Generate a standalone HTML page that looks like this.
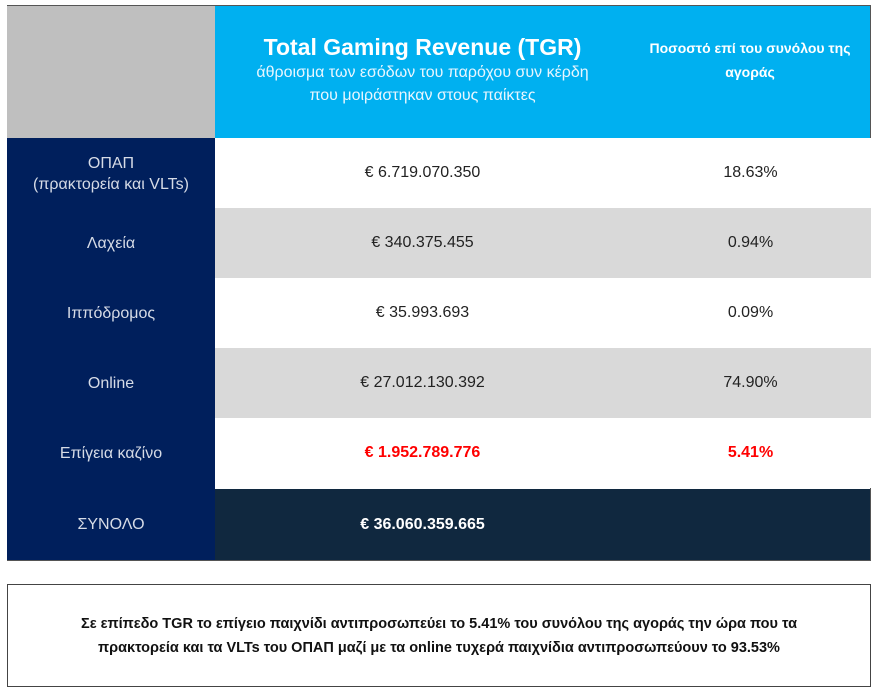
<!DOCTYPE html>
<html><head><meta charset="utf-8"><style>
body{margin:0;width:880px;height:696px;background:#fff;font-family:"Liberation Sans","DejaVu Sans",sans-serif;position:relative;overflow:hidden}
.c{position:absolute;display:flex;align-items:center;justify-content:center;text-align:center;box-sizing:border-box}
.lab{left:7px;width:208px;background:#001f5c;color:#d6dbe6;font-size:16px;line-height:21px}
.v{left:215px;width:415px;font-size:16px;color:#222}
.p{left:630px;width:241px;font-size:16px;color:#222}
</style></head><body>
<div style="position:absolute;left:7px;top:5px;width:864px;height:556px;border:1px solid #555;box-sizing:border-box"></div>
<div class="c" style="left:7px;top:6px;width:208px;height:132px;background:#bfbfbf"></div>
<div class="c" style="left:215px;top:6px;width:415px;height:132px;background:#00b0f0;flex-direction:column;color:#fff;justify-content:flex-start;padding-top:28px">
<div style="font-weight:bold;font-size:23px;line-height:26px">Total Gaming Revenue (TGR)</div>
<div style="font-size:16px;color:#e8f6ff;line-height:23px;margin-top:1px">άθροισμα των εσόδων του παρόχου συν κέρδη<br>που μοιράστηκαν στους παίκτες</div></div>
<div class="c" style="left:630px;top:6px;width:240px;height:132px;background:#00b0f0;color:#fff;font-weight:bold;font-size:14px;line-height:24px;align-items:flex-start;padding-top:30px">Ποσοστό επί του συνόλου της<br>αγοράς</div>
<div id="rows"></div>
<div class="c lab" style="top:489px;height:71px">ΣΥΝΟΛΟ</div>
<div class="c" style="left:215px;top:489px;width:655px;height:71px;background:#10283f;justify-content:flex-start"><span style="width:415px;text-align:center;color:#fff;font-weight:bold;font-size:16px">€ 36.060.359.665</span></div>
<div class="c" style="left:7px;top:584px;width:864px;height:103px;border:1px solid #444;font-weight:bold;font-size:14.5px;line-height:24px;color:#111">Σε επίπεδο TGR το επίγειο παιχνίδι αντιπροσωπεύει το 5.41% του συνόλου της αγοράς την ώρα που τα<br>πρακτορεία και τα VLTs του ΟΠΑΠ μαζί με τα online τυχερά παιχνίδια αντιπροσωπεύουν το 93.53%</div>
<script>
const labels=["ΟΠΑΠ<br>(πρακτορεία και VLTs)","Λαχεία","Ιππόδρομος","Online","Επίγεια καζίνο"];
const values=["€ 6.719.070.350","€ 340.375.455","€ 35.993.693","€ 27.012.130.392","€ 1.952.789.776"];
const shares=["18.63%","0.94%","0.09%","74.90%","5.41%"];
const r=document.getElementById('rows');
const tops=[138,208,278,348,418];
labels.forEach((l,i)=>{
 const bg=i%2?'#d9d9d9':'#fff';
 const hi=i===4;
 const a=document.createElement('div');a.className='c lab';a.style.top=tops[i]+'px';a.style.height='71px';a.innerHTML=l;
 
 
 const b=document.createElement('div');b.className='c v';b.style.top=tops[i]+'px';b.style.height='70px';b.style.background=bg;b.textContent=values[i];
 if(hi){b.style.color='#f00';b.style.fontWeight='bold';}
 
 
 const c=document.createElement('div');c.className='c p';c.style.top=tops[i]+'px';c.style.height='70px';c.style.background=bg;c.textContent=shares[i];
 if(hi){c.style.color='#f00';c.style.fontWeight='bold';}
 
 
 r.append(a,b,c);
});
</script>
</body></html>
